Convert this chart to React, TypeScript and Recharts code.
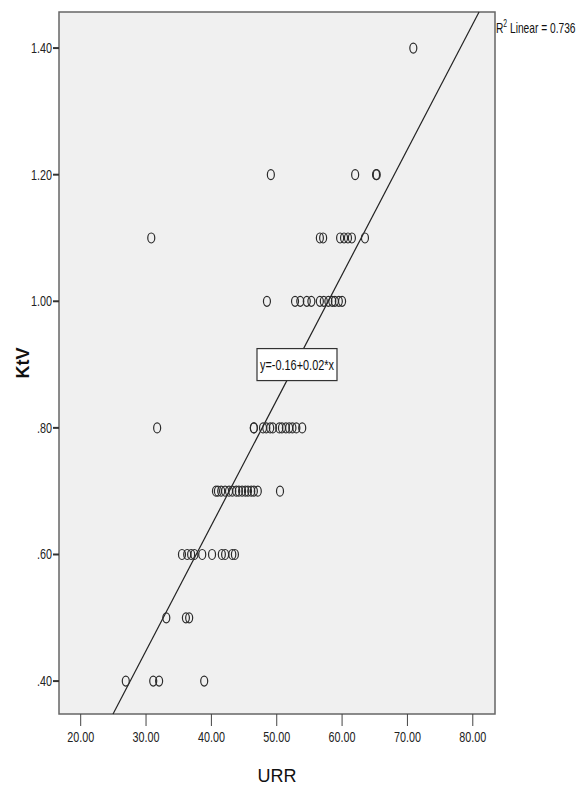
import React from "react";
import {
  ScatterChart,
  Scatter,
  XAxis,
  YAxis,
  ReferenceArea,
  ReferenceLine,
  ReferenceDot,
} from "recharts";

// URR readings grouped by KtV level
const ktvLevels = [1.4, 1.2, 1.1, 1.0, 0.8, 0.7, 0.6, 0.5, 0.4];
const urrByLevel = [
  [70.9],
  [49.1, 62.0, 65.2, 65.3],
  [30.8, 56.6, 57.1, 59.7, 60.3, 60.9, 61.5, 63.5],
  [48.5, 52.8, 53.6, 54.6, 55.3, 56.6, 57.2, 57.9, 58.5, 58.9, 59.5, 60.0],
  [31.7, 46.5, 46.5, 47.9, 48.4, 49.0, 49.4, 50.4, 50.8, 51.4, 51.9, 52.4, 53.0, 53.9],
  [40.7, 41.0, 41.5, 42.1, 42.7, 43.2, 43.8, 44.2, 44.7, 45.2, 45.6, 46.1, 46.5, 47.1, 50.5],
  [35.5, 36.3, 36.9, 37.4, 38.6, 40.1, 41.6, 42.1, 43.2, 43.6],
  [33.1, 36.1, 36.6],
  [26.9, 31.1, 32.0, 38.9],
];

const xTicks = [20, 30, 40, 50, 60, 70, 80];
const yTicks = [0.4, 0.6, 0.8, 1.0, 1.2, 1.4];
const xDomain = [16.68, 83.4];
const yDomain = [0.348, 1.457];

// fitted line as drawn
const intercept = -0.146;
const slope = 0.0198;

const points = ktvLevels.flatMap((k, i) => urrByLevel[i].map((u) => ({ urr: u, ktv: k })));

const xStart = (yDomain[0] - intercept) / slope;
const xEnd = (yDomain[1] - intercept) / slope;

const FONT = "'Liberation Sans', Arial, sans-serif";

function OpenCircle(props: any) {
  const { cx, cy } = props;
  return <ellipse cx={cx} cy={cy} rx={3.5} ry={5} fill="none" stroke="#2b2b2b" strokeWidth={1.2} />;
}

function EquationBox(props: any) {
  const { cx, cy } = props;
  return (
    <g>
      <rect x={cx - 40} y={cy - 16} width={80} height={32} fill="#ffffff" stroke="#333" strokeWidth={1.2} />
      <text
        x={cx - 37}
        y={cy + 5}
        textLength={74}
        lengthAdjust="spacingAndGlyphs"
        fontFamily={FONT}
        fontSize={15}
        fill="#111"
      >
        y=-0.16+0.02*x
      </text>
    </g>
  );
}

const fmtY = (v: number) => (v < 1 ? v.toFixed(2).slice(1) : v.toFixed(2));

function XTick(props: any) {
  const { x, y, payload } = props;
  return (
    <text
      transform={`translate(${x},${y + 13}) scale(0.72,1)`}
      textAnchor="middle"
      fontFamily={FONT}
      fontSize={15}
      fill="#222"
    >
      {payload.value.toFixed(2)}
    </text>
  );
}

function YTick(props: any) {
  const { x, y, payload } = props;
  return (
    <text
      transform={`translate(${x},${y + 5}) scale(0.72,1)`}
      textAnchor="end"
      fontFamily={FONT}
      fontSize={15}
      fill="#222"
    >
      {fmtY(payload.value)}
    </text>
  );
}

export default function App() {
  return (
    <div style={{ position: "absolute", left: 0, top: 0, width: 578, height: 788, background: "#fff" }}>
      <ScatterChart width={578} height={788} margin={{ top: 12, right: 83, bottom: 0, left: 0 }}>
        <ReferenceArea
          x1={xDomain[0]}
          x2={xDomain[1]}
          y1={yDomain[0]}
          y2={yDomain[1]}
          fill="#f0f0f0"
          fillOpacity={1}
          stroke="#666"
          strokeWidth={1.5}
        />
        <XAxis
          type="number"
          dataKey="urr"
          domain={xDomain}
          ticks={xTicks}
          allowDataOverflow
          height={74}
          tickSize={12}
          tickMargin={3}
          axisLine={false}
          tickLine={{ stroke: "#444" }}
          tick={<XTick />}
          label={{ value: "URR", position: "insideBottom", offset: 6, fill: "#111", fontSize: 18, fontFamily: FONT }}
        />
        <YAxis
          type="number"
          dataKey="ktv"
          domain={yDomain}
          ticks={yTicks}
          allowDataOverflow
          width={59}
          tickSize={6}
          tickMargin={1}
          axisLine={false}
          tickLine={{ stroke: "#333", strokeWidth: 2 }}
          tick={<YTick />}
          label={{
            value: "KtV",
            angle: -90,
            position: "center",
            dx: -7,
            fill: "#111",
            fontSize: 18,
            fontWeight: "bold",
            fontFamily: FONT,
          }}
        />
        <Scatter data={points} shape={OpenCircle} isAnimationActive={false} />
        <ReferenceLine
          segment={[
            { x: xStart, y: yDomain[0] },
            { x: xEnd, y: yDomain[1] },
          ]}
          stroke="#222"
          strokeWidth={1.2}
        />
        <ReferenceDot x={53.1} y={0.9} shape={EquationBox} />
      </ScatterChart>
      <div
        style={{
          position: "absolute",
          left: 496,
          top: 18,
          fontFamily: FONT,
          fontSize: 15,
          color: "#111",
          whiteSpace: "nowrap",
          transform: "scaleX(0.68)",
          transformOrigin: "left top",
        }}
      >
        R<sup style={{ fontSize: 10 }}>2</sup> Linear = 0.736
      </div>
    </div>
  );
}
